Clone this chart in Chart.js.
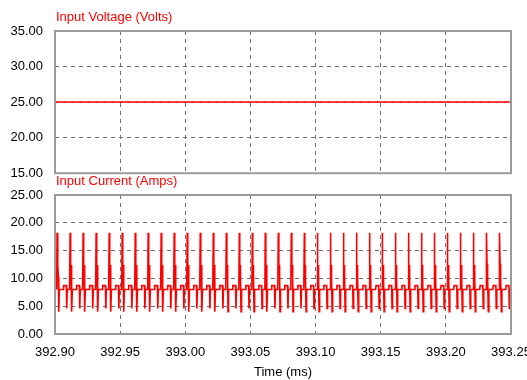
<!DOCTYPE html>
<html>
<head>
<meta charset="utf-8">
<script src="https://cdn.jsdelivr.net/npm/chart.js@4.4.1/dist/chart.umd.min.js"></script>
<style>
  html, body { margin: 0; padding: 0; background: #fff; overflow: hidden; }
  #wrap { position: relative; width: 527px; height: 380px; overflow: hidden; }
  canvas { position: absolute; left: 0; }
</style>
</head>
<body>
<div id="wrap">
  <canvas id="voltChart" width="560" height="193" style="top:0px;width:560px;height:193px"></canvas>
  <canvas id="currChart" width="560" height="212" style="top:168px;width:560px;height:212px"></canvas>
</div>
<script>
// x axis (ms)
const timeTicks = [392.90, 392.95, 393.00, 393.05, 393.10, 393.15, 393.20, 393.25];

// top panel: input voltage
const voltTicks = [15, 20, 25, 30, 35];
const voltTimes = [392.90, 393.25];
const voltValues = [25, 25];

// bottom panel: input current
const currTicks = [0, 5, 10, 15, 20, 25];
// switching spikes, one every ~10 us
const spikeTimes = [
  392.9013, 392.9113, 392.9213, 392.9313, 392.9413, 392.9513, 392.9613,
  392.9712, 392.9812, 392.9912, 393.0012, 393.0112, 393.0212, 393.0312,
  393.0412, 393.0512, 393.0611, 393.0711, 393.0811, 393.0911, 393.1011,
  393.1111, 393.1211, 393.1311, 393.1411, 393.1510, 393.1610, 393.1710,
  393.1810, 393.1910, 393.2010, 393.2110, 393.2210, 393.2310, 393.2410
];
// shape of one switching cycle: offset from spike (ms) and current (A)
const cycleOffsets = [0, 0.0003, 0.0006, 0.0008, 0.0010, 0.0013, 0.0016, 0.0020, 0.0050, 0.0053, 0.0074, 0.0077, 0.0081, 0.0099];
const cycleValues  = [8.0, 18.2, 12.6, 11.2, 12.4, 10.2, 4.0, 8.0, 8.0, 8.7, 8.7, 4.6, 8.0, 8.0];
const startValue = 10.5;

const RED = '#ff0000';
const FONT = 'Liberation Sans, Arial, sans-serif';

const currPoints = [{ x: timeTicks[0], y: startValue }];
spikeTimes.forEach(t0 => {
  cycleOffsets.forEach((dt, i) => currPoints.push({ x: t0 + dt, y: cycleValues[i] }));
});

const voltPoints = voltTimes.map((t, i) => ({ x: t, y: voltValues[i] }));

// frame + red panel caption
const framePlugin = {
  id: 'frame',
  afterDraw(chart, args, opts) {
    const { ctx, chartArea: a } = chart;
    ctx.save();
    ctx.strokeStyle = '#9a9a9a';
    ctx.lineWidth = 2;
    ctx.strokeRect(a.left, a.top, a.right - a.left, a.bottom - a.top);
    ctx.fillStyle = RED;
    ctx.font = '13px ' + FONT;
    ctx.textBaseline = 'middle';
    ctx.textAlign = 'left';
    ctx.fillText(opts.caption, a.left + 1, a.top - 14);
    ctx.restore();
  }
};

function xScale(showTicks) {
  return {
    type: 'linear',
    min: timeTicks[0],
    max: timeTicks[timeTicks.length - 1],
    afterBuildTicks: s => { s.ticks = timeTicks.map(v => ({ value: v })); },
    afterFit: s => { s.height = showTicks ? 46 : 0; },
    grid: { color: '#707070', lineWidth: 1, drawTicks: false },
    border: { display: false, dash: [4, 4] },
    ticks: {
      display: showTicks,
      padding: 11,
      color: '#000',
      font: { family: FONT, size: 13 },
      maxRotation: 0,
      autoSkip: false,
      callback: v => v.toFixed(2)
    },
    title: {
      display: showTicks,
      text: 'Time (ms)',
      color: '#000',
      font: { family: FONT, size: 13 },
      padding: { top: 0, bottom: 0 }
    }
  };
}

function yScale(ticks) {
  return {
    type: 'linear',
    min: ticks[0],
    max: ticks[ticks.length - 1],
    afterBuildTicks: s => { s.ticks = ticks.map(v => ({ value: v })); },
    afterFit: s => { s.width = 55; },
    grid: { color: '#707070', lineWidth: 1, drawTicks: false },
    border: { display: false, dash: [4, 4] },
    ticks: {
      padding: 12,
      color: '#000',
      font: { family: FONT, size: 13 },
      callback: v => v.toFixed(2)
    }
  };
}

new Chart(document.getElementById('voltChart'), {
  type: 'line',
  data: {
    datasets: [{
      data: voltPoints,
      borderColor: RED,
      borderWidth: 1.5,
      pointRadius: 0,
      tension: 0
    }]
  },
  options: {
    responsive: false,
    animation: false,
    devicePixelRatio: 1,
    layout: { padding: { top: 31, right: 49, bottom: 8, left: 0 } },
    plugins: { legend: { display: false }, tooltip: { enabled: false }, frame: { caption: 'Input Voltage (Volts)' } },
    scales: { x: xScale(false), y: yScale(voltTicks) }
  },
  plugins: [framePlugin]
});

new Chart(document.getElementById('currChart'), {
  type: 'line',
  data: {
    datasets: [{
      data: currPoints,
      borderColor: RED,
      borderWidth: 1.6,
      pointRadius: 0,
      tension: 0
    }]
  },
  options: {
    responsive: false,
    animation: false,
    devicePixelRatio: 1,
    layout: { padding: { top: 27, right: 49, bottom: 0, left: 0 } },
    plugins: { legend: { display: false }, tooltip: { enabled: false }, frame: { caption: 'Input Current (Amps)' } },
    scales: { x: xScale(true), y: yScale(currTicks) }
  },
  plugins: [framePlugin]
});
</script>
</body>
</html>
